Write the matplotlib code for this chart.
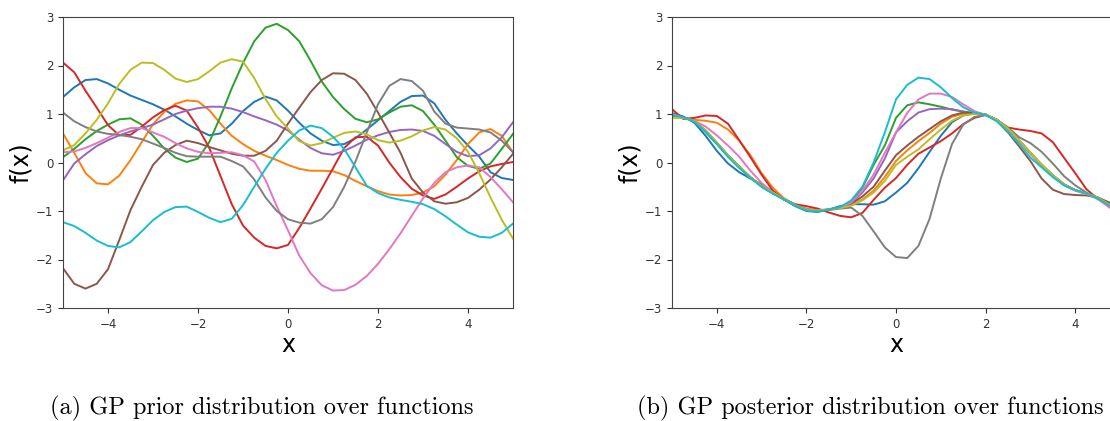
import numpy as np
import matplotlib
matplotlib.use("Agg")
import matplotlib.pyplot as plt

# sample grid, -5 .. 5 step 0.25
xs = np.linspace(-5, 5, 41)

# ---- prior samples
prior_blue = [1.35, 1.55, 1.70, 1.72, 1.63, 1.50, 1.38, 1.29, 1.20, 1.09, 0.95, 0.80, 0.67, 0.56, 0.60, 0.80, 1.06, 1.25, 1.36, 1.28, 1.07,
              0.82, 0.60, 0.45, 0.36, 0.38, 0.50, 0.68, 0.87, 1.06, 1.25, 1.37, 1.38, 1.22, 0.88, 0.60, 0.35, 0.12, -0.20, -0.32, -0.36]
prior_orange = [0.60, 0.20, -0.22, -0.43, -0.45, -0.27, 0.05, 0.42, 0.79, 1.04, 1.21, 1.28, 1.26, 1.08, 0.80, 0.55, 0.38, 0.24, 0.14, 0.05, -0.05,
                -0.13, -0.17, -0.17, -0.18, -0.26, -0.38, -0.49, -0.59, -0.66, -0.68, -0.67, -0.62, -0.49, -0.25, 0.05, 0.38, 0.62, 0.69, 0.55, 0.21]
prior_green = [0.11, 0.28, 0.48, 0.65, 0.78, 0.89, 0.91, 0.78, 0.55, 0.29, 0.10, 0.01, 0.08, 0.42, 0.95, 1.53, 2.05, 2.50, 2.78, 2.86, 2.73,
               2.50, 2.10, 1.67, 1.35, 1.10, 0.90, 0.83, 0.89, 1.03, 1.15, 1.18, 1.06, 0.78, 0.45, 0.11, -0.07, -0.13, -0.02, 0.28, 0.59]
prior_red = [2.06, 1.86, 1.48, 1.13, 0.77, 0.56, 0.57, 0.74, 0.93, 1.08, 1.17, 1.07, 0.72, 0.30, -0.28, -0.86, -1.30, -1.55, -1.72, -1.77, -1.70,
             -1.35, -0.95, -0.54, -0.12, 0.30, 0.52, 0.53, 0.35, 0.00, -0.30, -0.54, -0.68, -0.75, -0.66, -0.50, -0.33, -0.18, -0.08, -0.03, 0.01]
prior_purple = [-0.37, -0.02, 0.17, 0.34, 0.46, 0.56, 0.64, 0.71, 0.78, 0.89, 1.00, 1.07, 1.12, 1.15, 1.15, 1.11, 1.04, 0.95, 0.87, 0.78, 0.66,
                0.47, 0.30, 0.19, 0.16, 0.24, 0.35, 0.47, 0.56, 0.63, 0.67, 0.68, 0.65, 0.55, 0.38, 0.22, 0.13, 0.15, 0.29, 0.52, 0.83]
prior_brown = [-2.18, -2.50, -2.60, -2.50, -2.20, -1.60, -0.98, -0.50, -0.05, 0.20, 0.36, 0.45, 0.40, 0.32, 0.25, 0.18, 0.14, 0.14, 0.24, 0.45, 0.80,
               1.13, 1.45, 1.70, 1.84, 1.83, 1.70, 1.42, 1.03, 0.62, 0.20, -0.33, -0.62, -0.80, -0.85, -0.82, -0.73, -0.56, -0.35, -0.10, 0.18]
prior_pink = [0.21, 0.23, 0.30, 0.40, 0.51, 0.63, 0.71, 0.71, 0.62, 0.53, 0.40, 0.29, 0.22, 0.19, 0.20, 0.21, 0.15, 0.02, -0.36, -0.90, -1.40,
              -1.92, -2.28, -2.53, -2.64, -2.63, -2.52, -2.34, -2.09, -1.79, -1.46, -1.10, -0.74, -0.42, -0.20, -0.10, -0.06, -0.10, -0.30, -0.55, -0.82]
prior_gray = [1.03, 0.85, 0.73, 0.64, 0.59, 0.57, 0.53, 0.48, 0.39, 0.30, 0.20, 0.13, 0.12, 0.12, 0.12, 0.03, -0.08, -0.35, -0.72, -1.00, -1.17,
              -1.24, -1.26, -1.17, -0.92, -0.50, 0.02, 0.62, 1.20, 1.58, 1.72, 1.68, 1.48, 1.05, 0.80, 0.72, 0.70, 0.68, 0.62, 0.45, 0.21]
prior_olive = [0.25, 0.36, 0.60, 0.88, 1.22, 1.62, 1.91, 2.06, 2.05, 1.91, 1.73, 1.66, 1.72, 1.88, 2.06, 2.13, 2.08, 1.74, 1.31, 0.95, 0.70,
               0.44, 0.35, 0.40, 0.51, 0.61, 0.64, 0.58, 0.46, 0.41, 0.45, 0.54, 0.66, 0.73, 0.68, 0.50, 0.22, -0.22, -0.72, -1.18, -1.57]
prior_cyan = [-1.23, -1.31, -1.45, -1.61, -1.72, -1.75, -1.64, -1.42, -1.19, -1.02, -0.92, -0.91, -1.02, -1.14, -1.23, -1.16, -0.88, -0.50, -0.13, 0.20, 0.45,
              0.66, 0.76, 0.71, 0.53, 0.28, -0.10, -0.48, -0.63, -0.72, -0.77, -0.81, -0.86, -0.96, -1.11, -1.28, -1.44, -1.53, -1.55, -1.45, -1.26]

# ---- posterior samples
post_blue = [1.02, 0.95, 0.82, 0.55, 0.24, -0.02, -0.20, -0.33, -0.45, -0.60, -0.76, -0.90, -1.00, -1.02, -0.97, -0.90, -0.86, -0.86, -0.87, -0.80, -0.62,
             -0.42, -0.12, 0.22, 0.55, 0.83, 0.97, 1.02, 0.99, 0.88, 0.70, 0.46, 0.20, -0.04, -0.26, -0.45, -0.57, -0.64, -0.72, -0.86, -0.97]
post_orange = [0.97, 0.91, 0.88, 0.86, 0.82, 0.68, 0.45, 0.15, -0.22, -0.52, -0.74, -0.87, -0.95, -0.98, -0.97, -0.93, -0.88, -0.76, -0.58, -0.30, 0.03,
               0.25, 0.44, 0.61, 0.80, 0.94, 1.01, 1.02, 0.99, 0.88, 0.70, 0.46, 0.20, -0.05, -0.27, -0.45, -0.57, -0.64, -0.72, -0.87, -0.98]
post_green = [0.98, 0.93, 0.85, 0.63, 0.39, 0.13, -0.10, -0.31, -0.50, -0.64, -0.76, -0.89, -0.98, -1.00, -0.97, -0.93, -0.82, -0.52, -0.05, 0.35, 0.92,
              1.18, 1.24, 1.20, 1.15, 1.09, 1.05, 1.01, 0.98, 0.88, 0.69, 0.44, 0.18, -0.06, -0.27, -0.46, -0.57, -0.64, -0.73, -0.87, -0.98]
post_red = [1.10, 0.90, 0.92, 0.97, 0.96, 0.80, 0.46, 0.11, -0.25, -0.58, -0.77, -0.86, -0.90, -0.95, -1.03, -1.10, -1.13, -1.04, -0.77, -0.52, -0.32,
            -0.05, 0.18, 0.31, 0.44, 0.60, 0.79, 0.92, 0.98, 0.88, 0.72, 0.68, 0.65, 0.60, 0.42, 0.10, -0.22, -0.55, -0.75, -0.88, -0.98]
post_purple = [0.96, 0.93, 0.86, 0.65, 0.40, 0.14, -0.09, -0.31, -0.49, -0.63, -0.75, -0.88, -0.97, -1.00, -0.97, -0.93, -0.84, -0.62, -0.33, 0.08, 0.62,
               0.85, 1.03, 1.10, 1.11, 1.10, 1.05, 1.01, 0.98, 0.88, 0.70, 0.45, 0.19, -0.05, -0.27, -0.45, -0.57, -0.64, -0.72, -0.87, -0.98]
post_brown = [0.97, 0.93, 0.86, 0.66, 0.41, 0.15, -0.08, -0.30, -0.48, -0.62, -0.75, -0.88, -0.97, -0.99, -0.97, -0.92, -0.85, -0.70, -0.50, -0.17, 0.15,
              0.35, 0.53, 0.69, 0.85, 0.97, 1.03, 1.03, 0.99, 0.86, 0.62, 0.33, 0.03, -0.33, -0.56, -0.65, -0.67, -0.68, -0.72, -0.82, -0.92]
post_pink = [1.00, 0.93, 0.86, 0.74, 0.56, 0.35, 0.12, -0.17, -0.42, -0.62, -0.76, -0.88, -0.96, -0.99, -0.97, -0.93, -0.83, -0.58, -0.25, 0.20, 0.62,
             1.02, 1.30, 1.42, 1.42, 1.35, 1.20, 1.06, 0.98, 0.87, 0.69, 0.45, 0.19, -0.06, -0.28, -0.47, -0.58, -0.65, -0.75, -0.92, -1.05]
post_gray = [0.97, 0.93, 0.85, 0.64, 0.39, 0.13, -0.10, -0.31, -0.49, -0.63, -0.75, -0.88, -0.97, -1.00, -0.98, -0.95, -0.93, -1.10, -1.42, -1.75, -1.95,
             -1.97, -1.72, -1.16, -0.33, 0.38, 0.78, 0.94, 0.98, 0.88, 0.72, 0.52, 0.40, 0.22, -0.02, -0.28, -0.47, -0.62, -0.74, -0.86, -0.96]
post_olive = [0.92, 0.92, 0.86, 0.66, 0.41, 0.15, -0.08, -0.30, -0.48, -0.62, -0.75, -0.88, -0.97, -0.99, -0.97, -0.94, -0.89, -0.78, -0.62, -0.38, -0.05,
              0.12, 0.27, 0.48, 0.68, 0.86, 0.97, 1.00, 0.99, 0.88, 0.70, 0.46, 0.20, -0.04, -0.26, -0.45, -0.57, -0.64, -0.72, -0.86, -0.97]
post_cyan = [0.98, 0.93, 0.84, 0.63, 0.38, 0.12, -0.11, -0.32, -0.50, -0.64, -0.76, -0.89, -0.99, -1.01, -0.97, -0.92, -0.78, -0.50, 0.00, 0.62, 1.30,
             1.60, 1.75, 1.72, 1.55, 1.33, 1.14, 1.03, 0.98, 0.85, 0.64, 0.38, 0.10, -0.10, -0.30, -0.47, -0.57, -0.64, -0.74, -0.88, -1.00]

prior = [prior_blue, prior_orange, prior_green, prior_red, prior_purple,
         prior_brown, prior_pink, prior_gray, prior_olive, prior_cyan]
posterior = [post_blue, post_orange, post_green, post_red, post_purple,
             post_brown, post_pink, post_gray, post_olive, post_cyan]

captions = ["(a) GP prior distribution over functions",
            "(b) GP posterior distribution over functions"]

fig = plt.figure(figsize=(11.1, 4.21), dpi=100)
ax1 = fig.add_axes([63 / 1110, 113 / 421, 450 / 1110, 291 / 421])
ax2 = fig.add_axes([672 / 1110, 113 / 421, 448 / 1110, 291 / 421])  # runs past the right edge, like the crop

for ax, samples in [(ax1, prior), (ax2, posterior)]:
    for i, ys in enumerate(samples):
        ax.plot(xs, ys, color="C%d" % i, lw=1.4)
    ax.set_xlim(-5, 5)
    ax.set_ylim(-3, 3)
    ax.set_xticks([-4, -2, 0, 2, 4])
    ax.set_yticks(range(-3, 4))
    ax.tick_params(labelsize=8.5, colors="#333333")
    ax.set_xlabel("x", fontsize=17, labelpad=2)
    ax.set_ylabel("f(x)", fontsize=17, labelpad=2)
    for s in ax.spines.values():
        s.set_color("#444444")

fig.text(262 / 1110, 1 - 408 / 421, captions[0], family="cmr10", fontsize=17.5,
         ha="center", va="center")
fig.text(870 / 1110, 1 - 408 / 421, captions[1], family="cmr10", fontsize=17.5,
         ha="center", va="center")

fig.savefig("out.png", dpi=100)
